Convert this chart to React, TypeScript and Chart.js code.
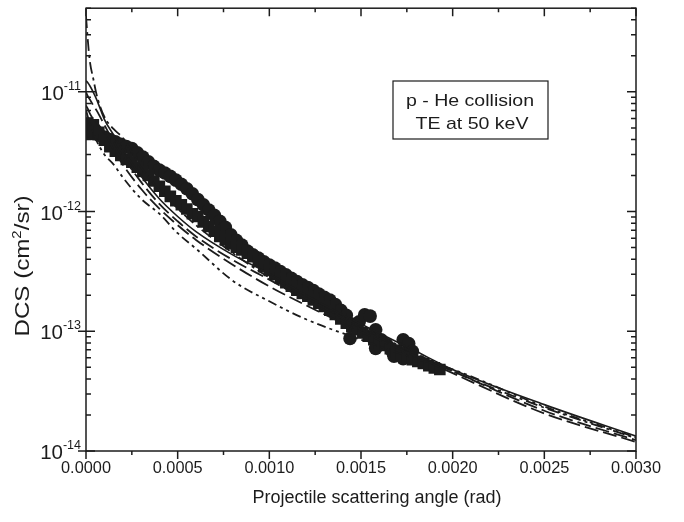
import React, { useEffect, useRef } from "react";
import { Chart, registerables } from "chart.js";
Chart.register(...registerables);

// Theory curves: common angle grid (rad)
const curveAngles = [0, 0.00001, 0.00002, 0.00004, 0.00006, 0.0001, 0.00015, 0.0002, 0.0003, 0.0004, 0.0005, 0.0006, 0.0008, 0.001, 0.0012, 0.0015, 0.0018, 0.002, 0.0025, 0.003];
const solidCurve = [1.24e-11, 1.19e-11, 1.13e-11, 9.9e-12, 8.5e-12, 5.9e-12, 4.39e-12, 3.3e-12, 1.98e-12, 1.28e-12, 9.1e-13, 6.8e-13, 4.35e-13, 3.03e-13, 2.0e-13, 1.15e-13, 6.8e-14, 4.8e-14, 2.44e-14, 1.33e-14];
const dashDotCurve = [4.3e-11, 2.7e-11, 1.85e-11, 1.28e-11, 9.2e-12, 6.2e-12, 4.9e-12, 4.14e-12, 2.35e-12, 1.52e-12, 1.06e-12, 7.7e-13, 4.51e-13, 2.81e-13, 1.89e-13, 1.09e-13, 6.5e-14, 4.65e-14, 2.3e-14, 1.28e-14];
const longDashCurve1 = [9.9e-12, 9.2e-12, 8.7e-12, 7.7e-12, 6.9e-12, 5.3e-12, 3.84e-12, 2.89e-12, 1.77e-12, 1.16e-12, 8.3e-13, 6.2e-13, 3.95e-13, 2.7e-13, 1.82e-13, 1.07e-13, 6.4e-14, 4.65e-14, 2.17e-14, 1.23e-14];
const longDashCurve2 = [7.7e-12, 7.2e-12, 6.65e-12, 5.9e-12, 5.5e-12, 4.55e-12, 3.3e-12, 2.48e-12, 1.55e-12, 1.06e-12, 7.7e-13, 5.8e-13, 3.6e-13, 2.37e-13, 1.65e-13, 9.9e-14, 6.2e-14, 4.47e-14, 2.06e-14, 1.19e-14];
const dashDotDotCurve = [7.05e-12, 6.2e-12, 5.5e-12, 4.55e-12, 3.84e-12, 3.0e-12, 2.48e-12, 1.94e-12, 1.28e-12, 9.6e-13, 6.6e-13, 4.9e-13, 2.65e-13, 1.78e-13, 1.26e-13, 8.5e-14, 5.9e-14, 4.8e-14, 2.35e-14, 1.3e-14];

// Experimental data: circles
const circleAngles = [0.00001, 0.00004, 0.00007, 0.0001, 0.00013, 0.00016, 0.00019, 0.00022, 0.00025, 0.00028, 0.00031, 0.00034, 0.00037, 0.0004, 0.00043, 0.00046, 0.00049, 0.00052, 0.00055, 0.00058, 0.00061, 0.00064, 0.00067, 0.0007, 0.00073, 0.00076, 0.00079, 0.00082, 0.00085, 0.00088, 0.00091, 0.00094, 0.00097, 0.001, 0.00103, 0.00106, 0.00109, 0.00112, 0.00115, 0.00118, 0.00121, 0.00124, 0.00127, 0.0013, 0.00133, 0.00136, 0.00139, 0.00142, 0.00145, 0.00149, 0.00152, 0.00155, 0.00158, 0.00161, 0.00164, 0.00167, 0.0017, 0.00173, 0.00176, 0.00178, 0.00144, 0.00158, 0.00168, 0.00173];
const circleDCS = [4.55e-12, 4.48e-12, 4.35e-12, 4.2e-12, 3.99e-12, 3.83e-12, 3.65e-12, 3.5e-12, 3.36e-12, 3.1e-12, 2.85e-12, 2.6e-12, 2.39e-12, 2.22e-12, 2.1e-12, 1.97e-12, 1.83e-12, 1.69e-12, 1.55e-12, 1.41e-12, 1.26e-12, 1.14e-12, 1.03e-12, 9.3e-13, 8.3e-13, 7.4e-13, 6.4e-13, 5.75e-13, 5.25e-13, 4.68e-13, 4.35e-13, 4.1e-13, 3.8e-13, 3.58e-13, 3.37e-13, 3.15e-13, 2.97e-13, 2.77e-13, 2.6e-13, 2.45e-13, 2.32e-13, 2.19e-13, 2.05e-13, 1.92e-13, 1.82e-13, 1.67e-13, 1.5e-13, 1.36e-13, 1.15e-13, 1.2e-13, 1.37e-13, 1.34e-13, 1.03e-13, 8.5e-14, 7.74e-14, 6.8e-14, 6.8e-14, 8.5e-14, 7.9e-14, 6.8e-14, 8.7e-14, 7.2e-14, 6.2e-14, 5.9e-14];

// Experimental data: squares
const squareAngles = [0.00001, 0.00004, 0.00007, 0.0001, 0.00013, 0.00016, 0.00019, 0.00022, 0.00025, 0.00028, 0.00031, 0.00034, 0.00037, 0.0004, 0.00043, 0.00046, 0.00049, 0.00052, 0.00055, 0.00058, 0.00061, 0.00064, 0.00067, 0.0007, 0.00073, 0.00076, 0.00079, 0.00082, 0.00085, 0.00088, 0.00091, 0.00094, 0.00097, 0.001, 0.00103, 0.00106, 0.00109, 0.00112, 0.00115, 0.00118, 0.00121, 0.00124, 0.00127, 0.0013, 0.00133, 0.00136, 0.00139, 0.00142, 0.00145, 0.00148, 0.00151, 0.00154, 0.00157, 0.0016, 0.00163, 0.00166, 0.00169, 0.00172, 0.00175, 0.00178, 0.00181, 0.00184, 0.00187, 0.0019, 0.00193];
const squareDCS = [5.5e-12, 5.3e-12, 4.6e-12, 3.95e-12, 3.49e-12, 3.2e-12, 2.95e-12, 2.73e-12, 2.58e-12, 2.35e-12, 2.16e-12, 2.0e-12, 1.8e-12, 1.63e-12, 1.48e-12, 1.34e-12, 1.23e-12, 1.14e-12, 1.05e-12, 9.6e-13, 9.1e-13, 8.2e-13, 7.5e-13, 6.85e-13, 6.2e-13, 5.8e-13, 5.4e-13, 5.05e-13, 4.77e-13, 4.5e-13, 4.2e-13, 3.85e-13, 3.46e-13, 3.22e-13, 3.0e-13, 2.78e-13, 2.55e-13, 2.38e-13, 2.2e-13, 2.07e-13, 1.96e-13, 1.83e-13, 1.72e-13, 1.61e-13, 1.5e-13, 1.38e-13, 1.27e-13, 1.17e-13, 1.09e-13, 1.03e-13, 9.7e-14, 9.1e-14, 8.5e-14, 8.05e-14, 7.6e-14, 7.15e-14, 6.8e-14, 6.4e-14, 6.1e-14, 5.8e-14, 5.61e-14, 5.38e-14, 5.15e-14, 4.95e-14, 4.8e-14];

// Axis ticks
const xMajorTicks = [0, 0.0005, 0.001, 0.0015, 0.002, 0.0025, 0.003];
const xTickLabels = ["0.0000", "0.0005", "0.0010", "0.0015", "0.0020", "0.0025", "0.0030"];
const xMinorTicks = [0.00025, 0.00075, 0.00125, 0.00175, 0.00225, 0.00275];
const yMajorTicks = [1e-14, 1e-13, 1e-12, 1e-11];
const yTickExponents = ["-14", "-13", "-12", "-11"];
const yMinorMantissas = [2, 3, 4, 5, 6, 7, 8, 9];
const yMinorDecades = [1e-14, 1e-13, 1e-12, 1e-11];

const INK = "#1c1c1c";
const FONT = "'Liberation Sans', Arial, Helvetica, sans-serif";

function pts(xs: number[], ys: number[]) {
  return xs.map((x, i) => ({ x, y: ys[i] }));
}

function drawText(ctx: CanvasRenderingContext2D, text: string, x: number, y: number, size: number, sx: number, align: CanvasTextAlign) {
  ctx.save();
  ctx.font = `${size}px ${FONT}`;
  ctx.textBaseline = "alphabetic";
  ctx.translate(x, y);
  ctx.scale(sx, 1);
  ctx.textAlign = align;
  ctx.fillText(text, 0, 0);
  ctx.restore();
}

const framePlugin = {
  id: "frame",
  afterDraw(chart: any) {
    const { ctx, chartArea, scales } = chart;
    const { left, right, top, bottom } = chartArea;
    const xs = scales.x;
    const ys = scales.y;
    ctx.save();
    ctx.strokeStyle = INK;
    ctx.fillStyle = INK;
    ctx.lineWidth = 1.5;
    ctx.strokeRect(left, top, right - left, bottom - top);
    ctx.beginPath();
    xMajorTicks.forEach((v) => {
      const p = xs.getPixelForValue(v);
      ctx.moveTo(p, bottom); ctx.lineTo(p, bottom + 8);
      ctx.moveTo(p, top); ctx.lineTo(p, top + 8);
    });
    xMinorTicks.forEach((v) => {
      const p = xs.getPixelForValue(v);
      ctx.moveTo(p, bottom); ctx.lineTo(p, bottom + 4);
      ctx.moveTo(p, top); ctx.lineTo(p, top + 4);
    });
    yMajorTicks.forEach((v) => {
      const p = ys.getPixelForValue(v);
      ctx.moveTo(left - 8, p); ctx.lineTo(left + 9, p);
      ctx.moveTo(right - 9, p); ctx.lineTo(right, p);
    });
    yMinorDecades.forEach((d) => {
      yMinorMantissas.forEach((m) => {
        const v = d * m;
        if (v > ys.max) return;
        const p = ys.getPixelForValue(v);
        ctx.moveTo(left, p); ctx.lineTo(left + 5, p);
        ctx.moveTo(right - 5, p); ctx.lineTo(right, p);
      });
    });
    ctx.stroke();

    // x tick labels
    xMajorTicks.forEach((v, i) => {
      const p = xs.getPixelForValue(v);
      drawText(ctx, xTickLabels[i], p, bottom + 22, 16, 1.02, "center");
    });
    // y tick labels with superscript
    yMajorTicks.forEach((v, i) => {
      const p = ys.getPixelForValue(v);
      ctx.font = `12.5px ${FONT}`;
      const ew = ctx.measureText(yTickExponents[i]).width;
      const ex = left - 5 - ew;
      drawText(ctx, yTickExponents[i], ex, p - 2, 12.5, 1, "left");
      drawText(ctx, "10", ex, p + 8, 20.5, 1, "right");
    });
    // x title
    drawText(ctx, "Projectile scattering angle (rad)", 377, bottom + 52, 18, 1, "center");
    // y title rotated
    ctx.save();
    ctx.translate(29, 266);
    ctx.rotate(-Math.PI / 2);
    ctx.scale(1.15, 1);
    const big = 21;
    const small = 13;
    ctx.font = `${big}px ${FONT}`;
    const t1 = "DCS (cm";
    const t2 = "2";
    const t3 = "/sr)";
    const w1 = ctx.measureText(t1).width;
    ctx.font = `${small}px ${FONT}`;
    const w2 = ctx.measureText(t2).width;
    ctx.font = `${big}px ${FONT}`;
    const w3 = ctx.measureText(t3).width;
    const total = w1 + w2 + w3;
    let cx = -total / 2;
    ctx.textAlign = "left";
    ctx.fillText(t1, cx, 0); cx += w1;
    ctx.font = `${small}px ${FONT}`;
    ctx.fillText(t2, cx, -8); cx += w2;
    ctx.font = `${big}px ${FONT}`;
    ctx.fillText(t3, cx, 0);
    ctx.restore();

    // annotation box
    ctx.lineWidth = 1.2;
    ctx.strokeRect(393, 81, 155, 58);
    drawText(ctx, "p - He collision", 470, 106, 17, 1.15, "center");
    drawText(ctx, "TE at 50 keV", 472, 129, 17, 1.15, "center");
    ctx.restore();
  },
};

export default function App() {
  const ref = useRef<HTMLCanvasElement>(null);
  useEffect(() => {
    const canvas = ref.current!;
    const lineDs = (label: string, ys: number[], dash: number[], width = 1.6) => ({
      label,
      data: pts(curveAngles, ys),
      showLine: true,
      borderColor: INK,
      borderWidth: width,
      borderDash: dash,
      pointRadius: 0,
      cubicInterpolationMode: "monotone" as const,
      order: 0,
    });
    const chart = new Chart(canvas, {
      type: "scatter",
      data: {
        datasets: [
          {
            label: "circles",
            data: pts(circleAngles, circleDCS),
            pointStyle: "circle",
            pointRadius: 6.8,
            backgroundColor: INK,
            borderColor: INK,
            borderWidth: 0,
            order: 2,
          },
          {
            label: "squares",
            data: pts(squareAngles, squareDCS),
            pointStyle: "rect",
            pointRadius: 8.2,
            backgroundColor: INK,
            borderColor: INK,
            borderWidth: 0,
            order: 1,
          },
          lineDs("solid", solidCurve, []),
          lineDs("dash-dot", dashDotCurve, [12, 4, 3, 4], 1.8),
          lineDs("long dash 1", longDashCurve1, [14, 5], 1.8),
          lineDs("long dash 2", longDashCurve2, [14, 5], 1.8),
          lineDs("dash-dot-dot", dashDotDotCurve, [9, 4, 3, 4, 3, 4], 1.8),
        ],
      },
      options: {
        animation: false,
        responsive: false,
        layout: { padding: { left: 86, right: 48, top: 4, bottom: 71 } },
        plugins: { legend: { display: false }, tooltip: { enabled: false } },
        scales: {
          x: { type: "linear", min: 0, max: 0.003, display: false },
          y: { type: "logarithmic", min: 1e-14, max: 5e-11, display: false },
        },
      },
      plugins: [framePlugin],
    });
    return () => chart.destroy();
  }, []);
  return (
    <div style={{ position: "absolute", left: 0, top: 0, width: 684, height: 522, background: "#fff" }}>
      <canvas ref={ref} width={684} height={522} style={{ width: 684, height: 522 }} />
    </div>
  );
}
